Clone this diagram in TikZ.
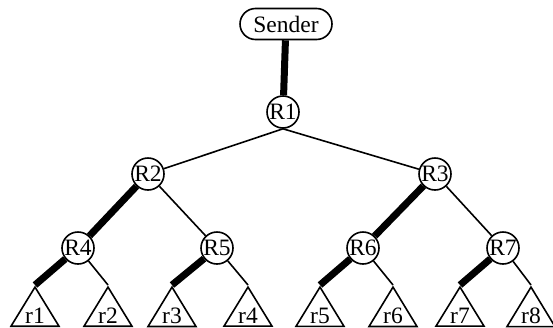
\documentclass[tikz,border=0pt]{standalone}
\usepackage{fontspec}
\setmainfont{Liberation Serif}
\usetikzlibrary{shapes.geometric,shapes.misc}

\begin{document}
\begin{tikzpicture}[
	x=1pt, y=-1pt,
	every node/.style={draw=black, font=\fontsize{23.5}{26}\selectfont, inner sep=0pt, line width=1.6pt},
	every path/.style={line width=1.6pt},
	source/.style={rounded rectangle, minimum width=92pt, minimum height=31pt},
	router/.style={circle, minimum size=32pt},
	receivers/.style={isosceles triangle, shape border rotate=90,
		isosceles triangle stretches, minimum width=48pt, minimum height=37pt, anchor=apex},
	tree/.style={line width=7pt},
]
\useasboundingbox (0,0) rectangle (553,327);

% sender and the core routers
\node [source] (sender) at (286,24) {Sender};
\node [router] (R1) at (283,112) {R1};
\node [router] (R2) at (148,174) {R2};
\node [router] (R3) at (435,174) {R3};
\node [router] (R4) at (78,248) {R4};
\node [router] (R5) at (217,248) {R5};
\node [router] (R6) at (363,248) {R6};
\node [router] (R7) at (503,248) {R7};

% receiver groups hang below the leaf routers
\foreach \r/\x in {1/35, 2/108, 3/172, 4/248, 5/320, 6/393, 7/460, 8/531}
	\node [receivers] (r\r) at (\x,285) {r\r};

% plain links
\draw (R1.south) -- (R2);
\draw (R1.south) -- (R3);
\draw (R2) -- (R5);
\draw (R3) -- (R7);
\draw (R4) -- (r2.apex);
\draw (R5) -- (r4.apex);
\draw (R6) -- (r6.apex);
\draw (R7) -- (r8.apex);

% links on the delivery tree
\draw [tree] (sender) -- (R1);
\draw [tree] (R2) -- (R4);
\draw [tree] (R3) -- (R6);
\draw [tree] (R4) -- (r1.apex);
\draw [tree] (R5) -- (r3.apex);
\draw [tree] (R6) -- (r5.apex);
\draw [tree] (R7) -- (r7.apex);
\end{tikzpicture}
\end{document}
